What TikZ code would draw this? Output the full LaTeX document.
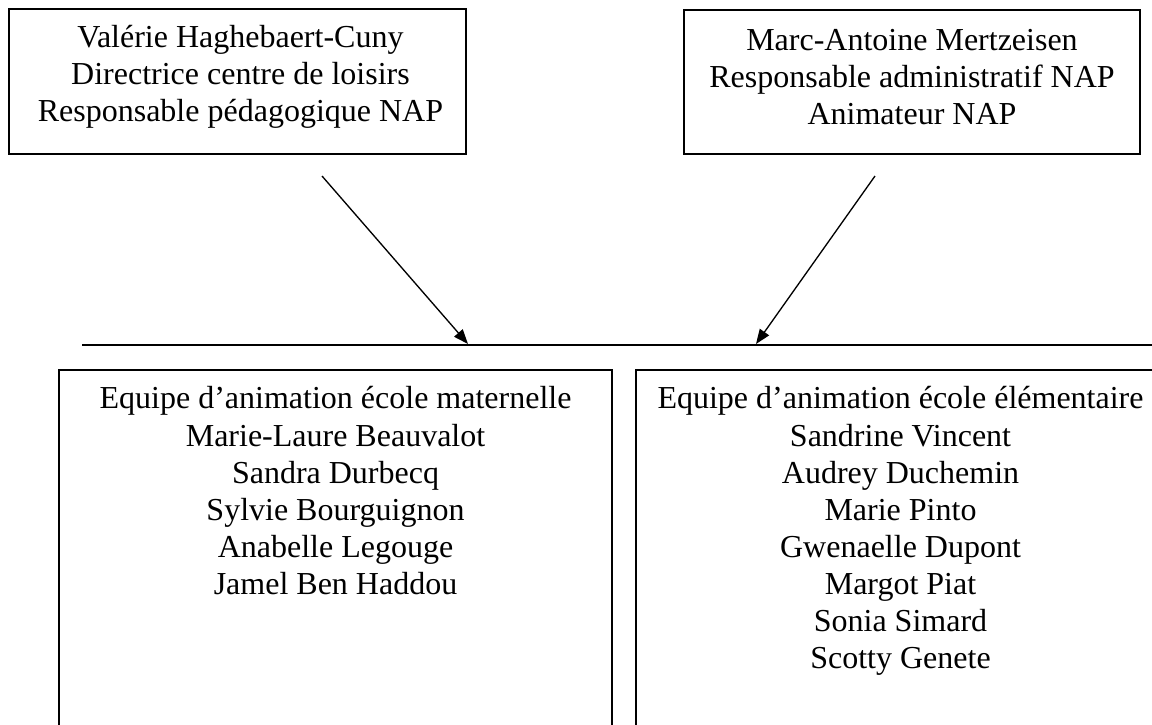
\documentclass[tikz,border=0pt]{standalone}
\usepackage{fontspec}
\setmainfont{Liberation Serif}
\usetikzlibrary{arrows.meta}
\begin{document}
\begin{tikzpicture}[x=0.375pt,y=-0.375pt,
  box/.style={draw, line width=0.75pt, inner sep=0pt, anchor=north west, font=\fontsize{12}{13.9}\selectfont},
  link/.style={line width=0.5pt, -{Triangle[length=5.5pt,width=4.2pt]}},
  bar/.style={line width=0.75pt}]
\useasboundingbox (0,0) rectangle (1152,725);
\clip (0,0) rectangle (1152,725);
\node[box] (vh) at (8,8) {\parbox[t][54.4pt][t]{171.4pt}{\centering\leftskip=2.2pt plus 1fil\rule{0pt}{14.4pt}Valérie Haghebaert-Cuny\\Directrice centre de loisirs\\Responsable pédagogique NAP}};
\node[box] (mam) at (683,9) {\parbox[t][54pt][t]{171pt}{\centering\rule{0pt}{15.2pt}Marc-Antoine Mertzeisen\\Responsable administratif NAP\\Animateur NAP}};
\node[box] (mat) at (58,369) {\parbox[t][150pt][t]{207.4pt}{\centering\rule{0pt}{14.6pt}Equipe d’animation école maternelle\\Marie-Laure Beauvalot\\Sandra Durbecq\\Sylvie Bourguignon\\Anabelle Legouge\\Jamel Ben Haddou}};
\node[box] (ele) at (635,369) {\parbox[t][150pt][t]{198.4pt}{\centering\rule{0pt}{14.6pt}Equipe d’animation école élémentaire\\Sandrine Vincent\\Audrey Duchemin\\Marie Pinto\\Gwenaelle Dupont\\Margot Piat\\Sonia Simard\\Scotty Genete}};
\coordinate (h1) at (82,344.5);
\coordinate (h2) at (1165,344.5);
\draw[bar] (h1) -- (h2);
\coordinate (a1s) at (322,176);
\coordinate (a1e) at (468,344);
\coordinate (a2s) at (875,176);
\coordinate (a2e) at (756,344);
\draw[link] (a1s) -- (a1e);
\draw[link] (a2s) -- (a2e);
\end{tikzpicture}
\end{document}
